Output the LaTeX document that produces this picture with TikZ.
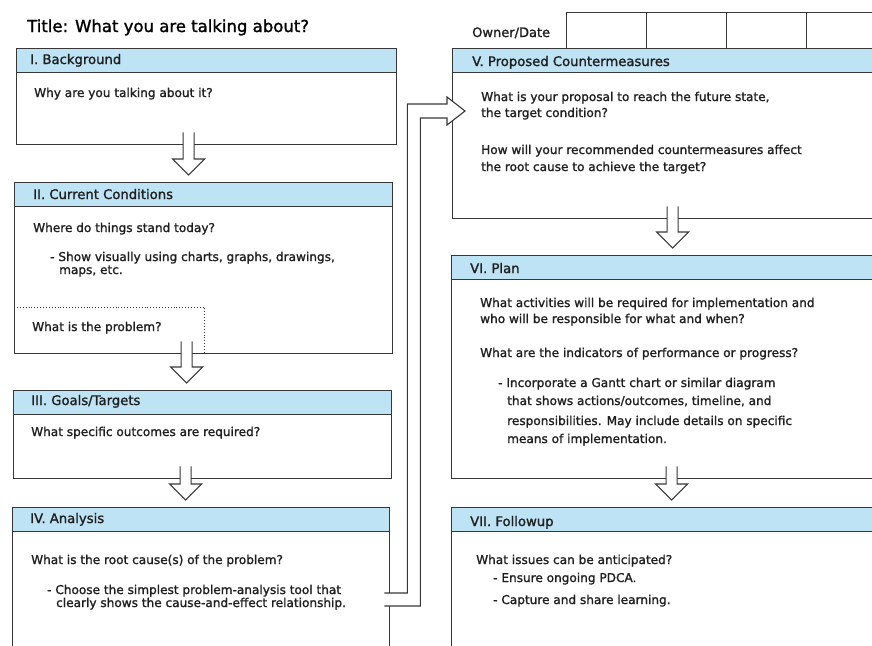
\documentclass[tikz,border=0pt]{standalone}
\usepackage{fontspec}
\setmainfont{DejaVu Sans}[FakeBold=1.4]
\usetikzlibrary{positioning,calc}
\definecolor{barblue}{RGB}{190,227,244}
\definecolor{ink}{RGB}{55,55,55}

\begin{document}
\begin{tikzpicture}[x=1pt, y=-1pt,
    panel/.style={draw=ink, line width=1.3pt, anchor=north west, inner sep=0pt},
    bar/.style={draw=ink, line width=1.1pt, fill=barblue, anchor=north west, inner sep=0pt, minimum height=24pt},
    head/.style={anchor=base west, inner sep=0pt, font=\fontsize{13.2}{15}\selectfont, text=black!88},
    txt/.style={anchor=base west, inner sep=0pt, font=\fontsize{12.1}{14}\selectfont, text=black!88},
    hollow/.style={draw=ink, line width=1.1pt, fill=white, line join=miter},
    cell/.style={draw=ink, line width=1.1pt, anchor=north west, minimum width=80pt, minimum height=36pt, inner sep=0pt}
]
\useasboundingbox (0,0) rectangle (872,645);
\clip (0,0) rectangle (872,645);

% title and owner row
\node[anchor=base west, inner sep=0pt, font=\fontsize{16.5}{19}\selectfont] (title) at (27,32) {Title: What you are talking about?};
\node[txt, font=\fontsize{13}{15}\selectfont] (owner) at (472,37) {Owner/Date};
\foreach \i in {0,...,3}
    \node[cell] (own\i) at (566+80*\i,12) {};

% left column
\node[panel, minimum width=380pt, minimum height=96pt] (b1) at (16,48) {};
\node[bar, minimum width=380pt] (h1) at (b1.north west) {};
\node[panel, minimum width=378pt, minimum height=171pt] (b2) at (14,182) {};
\node[bar, minimum width=378pt] (h2) at (b2.north west) {};
\node[panel, minimum width=378pt, minimum height=88pt] (b3) at (13,390) {};
\node[bar, minimum width=378pt] (h3) at (b3.north west) {};
\node[panel, minimum width=377pt, minimum height=160pt] (b4) at (12,507) {};
\node[bar, minimum width=377pt] (h4) at (b4.north west) {};

% right column
\node[panel, minimum width=440pt, minimum height=170pt] (b5) at (452,48) {};
\node[bar, minimum width=440pt] (h5) at (b5.north west) {};
\node[panel, minimum width=440pt, minimum height=223pt] (b6) at (451,255) {};
\node[bar, minimum width=440pt] (h6) at (b6.north west) {};
\node[panel, minimum width=440pt, minimum height=160pt] (b7) at (451,507) {};
\node[bar, minimum width=440pt] (h7) at (b7.north west) {};

\draw[ink, dotted, line width=0.9pt] ($(b2.north west)+(0,125)$) -| ($(b2.south west)+(190,0)$);

% headings
\node[head] (l1) at (30,64) {I. Background};
\node[head] (l2) at (33,199) {II. Current Conditions};
\node[head] (l3) at (31,405) {III. Goals/Targets};
\node[head] (l4) at (30,523) {IV. Analysis};
\node[head] (l5) at (472,66) {V. Proposed Countermeasures};
\node[head] (l6) at (470,273) {VI. Plan};
\node[head] (l7) at (470,526) {VII. Followup};

% texts
\node[txt] (t1) at (34,97) {Why are you talking about it?};
\node[txt] (t2a) at (33,232) {Where do things stand today?};
\node[txt] (t2b) at (50,261) {- Show visually using charts, graphs, drawings,};
\node[txt] (t2c) at (59,274) {maps, etc.};
\node[txt] (t2d) at (32,331) {What is the problem?};
\node[txt] (t3) at (31,436) {What specific outcomes are required?};
\node[txt] (t4a) at (31,564) {What is the root cause(s) of the problem?};
\node[txt] (t4b) at (47,594) {- Choose the simplest problem-analysis tool that};
\node[txt] (t4c) at (56,607) {clearly shows the cause-and-effect relationship.};
\node[txt] (t5a) at (481,101) {What is your proposal to reach the future state,};
\node[txt] (t5b) at (481,117) {the target condition?};
\node[txt] (t5c) at (481,154) {How will your recommended countermeasures affect};
\node[txt] (t5d) at (481,171) {the root cause to achieve the target?};
\node[txt] (t6a) at (480,307) {What activities will be required for implementation and};
\node[txt] (t6b) at (480,323) {who will be responsible for what and when?};
\node[txt] (t6c) at (480,357) {What are the indicators of performance or progress?};
\node[txt] (t6d) at (498,387) {- Incorporate a Gantt chart or similar diagram};
\node[txt] (t6e) at (507,405) {that shows actions/outcomes, timeline, and};
\node[txt] (t6f) at (507,425) {responsibilities. May include details on specific};
\node[txt] (t6g) at (507,443) {means of implementation.};
\node[txt] (t7a) at (476,564) {What issues can be anticipated?};
\node[txt] (t7b) at (493,582) {- Ensure ongoing PDCA.};
\node[txt] (t7c) at (493,604) {- Capture and share learning.};

% hollow arrows
\foreach \src/\dst/\off in {b1/b2/-18, b2/b3/-17, b3/b4/-17, b5/b6/0, b6/b7/0}
    \draw[hollow] let \p1=($(\src.south)+(\off,-13)$), \p2=($(\dst.north)+(\off,-7)$) in
        (\x1-5.5pt,\y1) -- (\x1-5.5pt,\y2+16pt) -- (\x1-16pt,\y2+16pt) -- (\x1,\y2)
        -- (\x1+16pt,\y2+16pt) -- (\x1+5.5pt,\y2+16pt) -- (\x1+5.5pt,\y1);

\draw[hollow] let \p1=(b4.north east), \p2=(b5.north west) in
    (\x1-6pt,\y1-86pt) -- (\x1+17pt,\y1-86pt) -- (\x1+17pt,\y2-56pt) -- (\x2-5pt,\y2-56pt)
    -- (\x2-5pt,\y2-49pt) -- (\x2+13pt,\y2-63pt) -- (\x2-5pt,\y2-77pt) -- (\x2-5pt,\y2-70pt)
    -- (\x1+30pt,\y2-70pt) -- (\x1+30pt,\y1-99pt) -- (\x1-6pt,\y1-99pt);
\end{tikzpicture}
\end{document}
